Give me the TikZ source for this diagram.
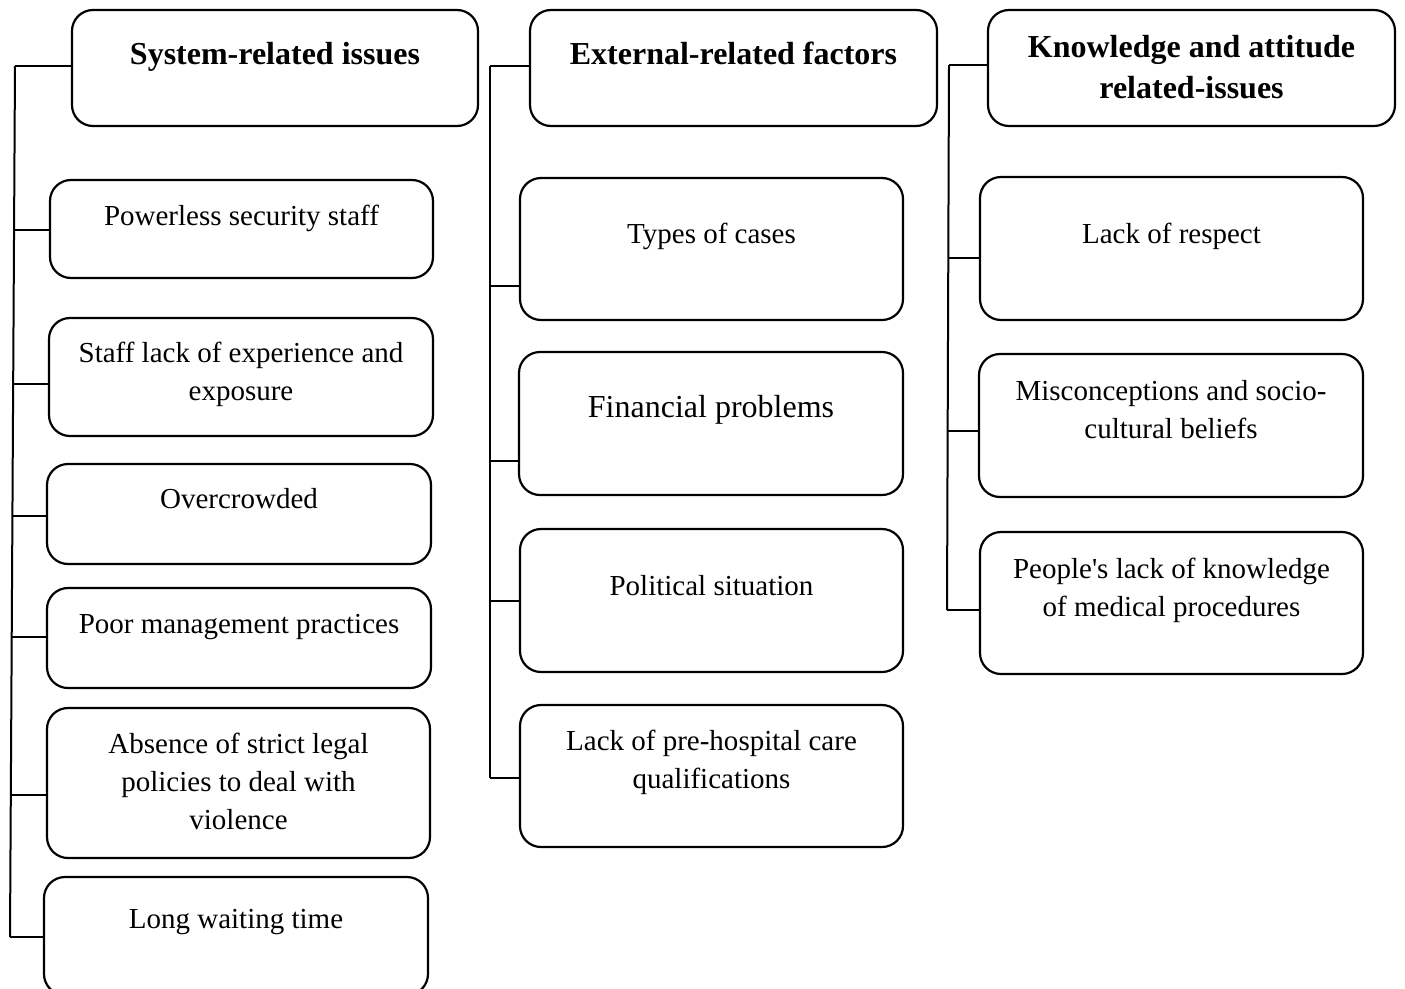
\documentclass[tikz,border=0pt]{standalone}
\usepackage{fontspec}
\setmainfont{Liberation Serif}
\usetikzlibrary{fit}
\begin{document}
\begin{tikzpicture}[x=1pt,y=-1pt,
  box/.style={draw, line width=2.2pt, rounded corners=21pt, inner sep=0pt},
  txt/.style={font=\fontsize{29}{38}\selectfont, align=center, inner sep=0pt, anchor=north},
  bigtxt/.style={font=\fontsize{32}{38}\selectfont, align=center, inner sep=0pt, anchor=north},
  hd/.style={font=\bfseries\fontsize{32}{41}\selectfont, align=center, inner sep=0pt, anchor=north},
  ln/.style={line width=2pt}]
\clip (0,0) rectangle (1405,988);
\fill[white] (0,0) rectangle (1405,988);

% headers
\node[box, fit={(72,10) (478,126)}] (h1) {};
\node[hd] (h1t) at (275,35.3) {\strut System-related issues};
\node[box, fit={(530,10) (937,126)}] (h2) {};
\node[hd] (h2t) at (733.5,35.3) {\strut External-related factors};
\node[box, fit={(988,10) (1395,126)}] (h3) {};
\node[hd] (h3t) at (1191.5,28.3) {\strut Knowledge and attitude\\related-issues};

% column 1
\node[box, fit={(50,180) (433,278)}] (b1) {};
\node[txt] (b1t) at (241.5,198.4) {\strut Powerless security staff};
\node[box, fit={(49,318) (433,436)}] (b2) {};
\node[txt] (b2t) at (241,335.4) {\strut Staff lack of experience and\\exposure};
\node[box, fit={(47,464) (431,564)}] (b3) {};
\node[txt] (b3t) at (239,481.4) {\strut Overcrowded};
\node[box, fit={(47,588) (431,688)}] (b4) {};
\node[txt] (b4t) at (239,606.4) {\strut Poor management practices};
\node[box, fit={(47,708) (430,858)}] (b5) {};
\node[txt] (b5t) at (238.5,726.4) {\strut Absence of strict legal\\policies to deal with\\violence};
\node[box, fit={(44,877) (428,995)}] (b6) {};
\node[txt] (b6t) at (236,901.4) {\strut Long waiting time};

% column 2
\node[box, fit={(520,178) (903,320)}] (c1) {};
\node[txt] (c1t) at (711.5,216.4) {\strut Types of cases};
\node[box, fit={(519,352) (903,495)}] (c2) {};
\node[bigtxt] (c2t) at (711,390.4) {\strut Financial problems};
\node[box, fit={(520,529) (903,672)}] (c3) {};
\node[txt] (c3t) at (711.5,568.4) {\strut Political situation};
\node[box, fit={(520,705) (903,847)}] (c4) {};
\node[txt] (c4t) at (711.5,723.4) {\strut Lack of pre-hospital care\\qualifications};

% column 3
\node[box, fit={(980,177) (1363,320)}] (d1) {};
\node[txt] (d1t) at (1171.5,216.4) {\strut Lack of respect};
\node[box, fit={(979,354) (1363,497)}] (d2) {};
\node[txt] (d2t) at (1171,373.4) {\strut Misconceptions and socio-\\cultural beliefs};
\node[box, fit={(980,532) (1363,674)}] (d3) {};
\node[txt] (d3t) at (1171.5,551.4) {\strut People\textquotesingle s lack of knowledge\\of medical procedures};

% trunk 1
\coordinate (t1a) at (15,66);
\coordinate (t1b) at (10,937);
\coordinate (p1) at (14,230);
\coordinate (p2) at (13.2,384);
\coordinate (p3) at (12.4,516);
\coordinate (p4) at (11.7,637);
\coordinate (p5) at (10.8,795);
\draw[ln] (t1a) -- (t1b);
\draw[ln] (t1a) -- (t1a -| h1.west);
\draw[ln] (p1) -- (p1 -| b1.west);
\draw[ln] (p2) -- (p2 -| b2.west);
\draw[ln] (p3) -- (p3 -| b3.west);
\draw[ln] (p4) -- (p4 -| b4.west);
\draw[ln] (p5) -- (p5 -| b5.west);
\draw[ln] (t1b) -- (t1b -| b6.west);

% trunk 2
\coordinate (t2a) at (490,66);
\coordinate (t2b) at (490,778);
\coordinate (q1) at (490,286);
\coordinate (q2) at (490,461);
\coordinate (q3) at (490,601);
\draw[ln] (t2a) -- (t2b);
\draw[ln] (t2a) -- (t2a -| h2.west);
\draw[ln] (q1) -- (q1 -| c1.west);
\draw[ln] (q2) -- (q2 -| c2.west);
\draw[ln] (q3) -- (q3 -| c3.west);
\draw[ln] (t2b) -- (t2b -| c4.west);

% trunk 3
\coordinate (t3a) at (949,65);
\coordinate (t3b) at (947,610);
\coordinate (r1) at (948.6,258);
\coordinate (r2) at (948,431);
\draw[ln] (t3a) -- (t3b);
\draw[ln] (t3a) -- (t3a -| h3.west);
\draw[ln] (r1) -- (r1 -| d1.west);
\draw[ln] (r2) -- (r2 -| d2.west);
\draw[ln] (t3b) -- (t3b -| d3.west);
\end{tikzpicture}
\end{document}
